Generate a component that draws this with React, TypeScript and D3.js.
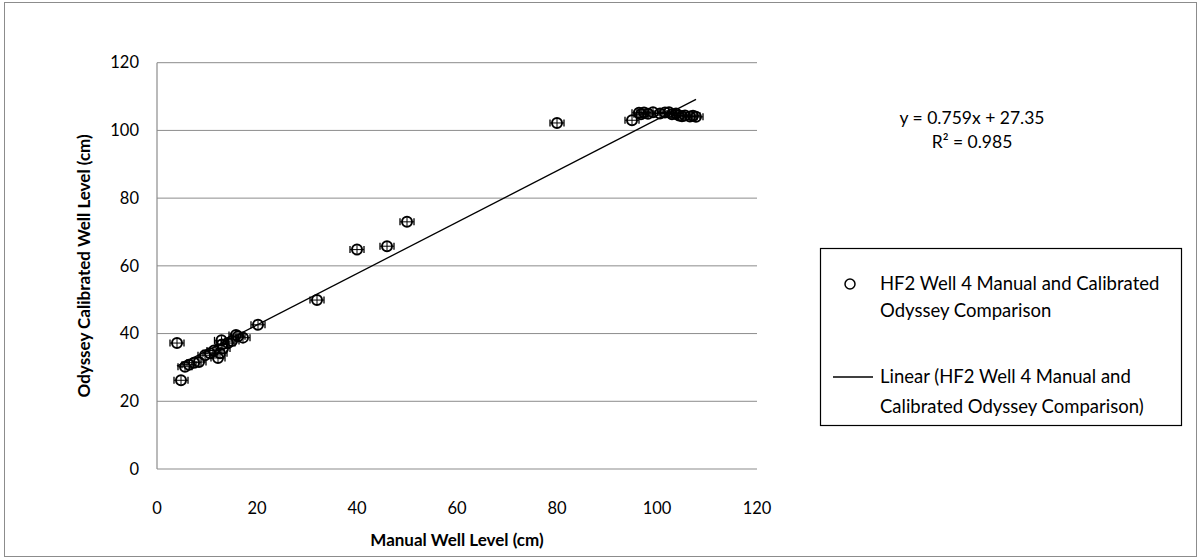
import React from "react";
import * as d3 from "d3";

const manualLevel = [4, 4.8, 5.6, 6.4, 7.4, 8.4, 9.6, 10.6, 11.4, 12.2, 12.6, 12.9, 13.0, 13.2, 14.2, 15.0, 15.8, 16.2, 17.2, 20.2, 32, 40, 46, 50, 80, 95, 96.4, 96.8, 97.4, 98.2, 99.2, 100.6, 101.6, 102.4, 103.0, 103.8, 104.4, 105.0, 105.6, 106.6, 107.2, 107.8];
const calibratedLevel = [37.2, 26.2, 30.2, 30.8, 31.4, 31.6, 33.6, 34.2, 35.0, 32.8, 34.2, 38.0, 36.8, 35.6, 37.2, 37.8, 39.6, 39.2, 38.8, 42.6, 49.9, 64.8, 65.8, 73.0, 102.2, 103.0, 105.2, 104.8, 105.3, 104.9, 105.4, 105.0, 105.3, 105.4, 104.8, 105.0, 104.4, 104.2, 104.4, 104.1, 104.3, 104.0];
const xErr = 1.4;
const yErr = 1.2;
const xTicks = [0, 20, 40, 60, 80, 100, 120];
const yTicks = [0, 20, 40, 60, 80, 100, 120];
const slope = 0.759;
const intercept = 27.35;
const rSquared = 0.985;
const xTitle = "Manual Well Level (cm)";
const yTitle = "Odyssey Calibrated Well Level (cm)";
const legendLines = ["HF2 Well 4 Manual and Calibrated", "Odyssey Comparison"];
const trendLegendLines = ["Linear (HF2 Well 4 Manual and", "Calibrated Odyssey Comparison)"];

const FONT = "Lato, 'Open Sans', sans-serif";

export default function App() {
  const W = 1200, H = 560;
  const x = d3.scaleLinear().domain([0, 120]).range([157, 757]);
  const y = d3.scaleLinear().domain([0, 120]).range([469, 62.7]);
  const pts = manualLevel.map((m, i) => ({ m, c: calibratedLevel[i] }));
  const xMin = d3.min(manualLevel)!;
  const xMax = d3.max(manualLevel)!;
  const trend = d3.line<number>().x((v) => x(v)).y((v) => y(slope * v + intercept));

  return (
    <svg width={W} height={H} style={{ position: "absolute", left: 0, top: 0 }} fontFamily={FONT}>
      <rect x={0} y={0} width={W} height={H} fill="#fff" />
      <rect x={4.5} y={2.5} width={1192} height={554} fill="none" stroke="#8c8c8c" strokeWidth={1} />
      {yTicks.map((t) => (
        <g key={"y" + t}>
          {t > 0 && <line x1={x(0)} x2={x(120)} y1={y(t)} y2={y(t)} stroke="#8c8c8c" strokeWidth={1} />}
          <text x={x(0) - 18} y={y(t)} dy="0.35em" textAnchor="end" fontSize={16.5} fill="#000">{t}</text>
        </g>
      ))}
      {xTicks.map((t) => (
        <text key={"x" + t} x={x(t)} y={y(0) + 39} dy="0.35em" textAnchor="middle" fontSize={16.5} fill="#000">{t}</text>
      ))}
      <line x1={x(0)} x2={x(120)} y1={y(0)} y2={y(0)} stroke="#8c8c8c" strokeWidth={1.2} />
      <line x1={x(0)} x2={x(0)} y1={y(0)} y2={y(120)} stroke="#8c8c8c" strokeWidth={1.2} />

      <text x={(x(0) + x(120)) / 2} y={540} dy="0.35em" textAnchor="middle" fontSize={17} fontWeight="bold">{xTitle}</text>
      <text transform={`translate(84,${(y(0) + y(120)) / 2}) rotate(-90)`} textAnchor="middle" dy="0.35em" fontSize={17} fontWeight="bold">{yTitle}</text>

      {pts.map((p, i) => {
        const cx = x(p.m), cy = y(p.c);
        const xl = x(p.m - xErr), xr = x(p.m + xErr);
        const yt = y(p.c + yErr), yb = y(p.c - yErr);
        return (
          <g key={"p" + i} stroke="#000" fill="none">
            <line x1={xl} x2={xr} y1={cy} y2={cy} strokeWidth={1} />
            <line x1={xr} x2={xr} y1={cy - 3.5} y2={cy + 3.5} strokeWidth={1.3} />
            <line x1={xl} x2={xl} y1={cy - 3.5} y2={cy + 3.5} strokeWidth={1.3} />
            <line x1={cx} x2={cx} y1={yt} y2={yb} strokeWidth={1} />
            <circle cx={cx} cy={cy} r={5} strokeWidth={2} />
          </g>
        );
      })}
      <path d={trend([xMin, xMax]) || ""} fill="none" stroke="#000" strokeWidth={1.3} />

      <text x={972} y={118} dy="0.35em" textAnchor="middle" fontSize={17.5}>{`y = ${slope}x + ${intercept}`}</text>
      <text x={972} y={142} dy="0.35em" textAnchor="middle" fontSize={17.5}>{`R² = ${rSquared}`}</text>

      <rect x={820.5} y={248.5} width={361} height={177} fill="#fff" stroke="#000" strokeWidth={1.2} />
      <circle cx={850} cy={284} r={5} fill="none" stroke="#000" strokeWidth={1.5} />
      {legendLines.map((l, i) => (
        <text key={"l" + i} x={880} y={284 + i * 27} dy="0.35em" fontSize={18.5}>{l}</text>
      ))}
      <line x1={833} x2={873} y1={377} y2={377} stroke="#000" strokeWidth={1.3} />
      {trendLegendLines.map((l, i) => (
        <text key={"t" + i} x={880} y={377 + i * 30} dy="0.35em" fontSize={18.5}>{l}</text>
      ))}
    </svg>
  );
}
